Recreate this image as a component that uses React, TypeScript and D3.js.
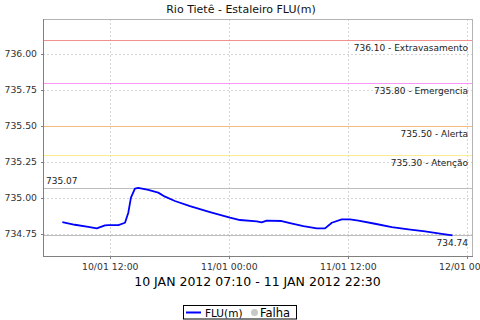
import React from "react";
import * as d3 from "d3";

const times: string[] = [
  "2012-01-10T07:10", "2012-01-10T08:26", "2012-01-10T09:47", "2012-01-10T10:38",
  "2012-01-10T11:28", "2012-01-10T11:48", "2012-01-10T12:49", "2012-01-10T13:29",
  "2012-01-10T13:49", "2012-01-10T14:05", "2012-01-10T14:29", "2012-01-10T14:49",
  "2012-01-10T15:50", "2012-01-10T16:50", "2012-01-10T17:31", "2012-01-10T18:31",
  "2012-01-10T20:02", "2012-01-10T22:03", "2012-01-11T00:04", "2012-01-11T01:05",
  "2012-01-11T02:46", "2012-01-11T03:16", "2012-01-11T03:46", "2012-01-11T05:17",
  "2012-01-11T06:07", "2012-01-11T07:28", "2012-01-11T08:49", "2012-01-11T09:39",
  "2012-01-11T10:09", "2012-01-11T10:20", "2012-01-11T11:20", "2012-01-11T12:10",
  "2012-01-11T13:01", "2012-01-11T14:41", "2012-01-11T16:23", "2012-01-11T18:03",
  "2012-01-11T19:44", "2012-01-11T21:25", "2012-01-11T22:30",
];
const levels: number[] = [
  734.833, 734.814, 734.8, 734.789, 734.81, 734.812, 734.812, 734.828,
  734.898, 735.002, 735.065, 735.07, 735.056, 735.037, 735.009, 734.979,
  734.944, 734.902, 734.863, 734.847, 734.838, 734.831, 734.842, 734.84,
  734.826, 734.805, 734.789, 734.789, 734.817, 734.828, 734.852, 734.852,
  734.842, 734.821, 734.798, 734.782, 734.768, 734.751, 734.74,
];

const yTicks: number[] = [734.75, 735.0, 735.25, 735.5, 735.75, 736.0];
const xTicks: string[] = ["2012-01-10T12:00", "2012-01-11T00:00", "2012-01-11T12:00", "2012-01-12T00:00"];
const xTickLabels: string[] = ["10/01 12:00", "11/01 00:00", "11/01 12:00", "12/01 00:00"];

const thresholdValues: number[] = [736.1, 735.8, 735.5, 735.3];
const thresholdLabels: string[] = ["736.10 - Extravasamento", "735.80 - Emergencia", "735.50 - Alerta", "735.30 - Atenção"];
const thresholdColors: string[] = ["#f29090", "#fb96fb", "#f2bc80", "#fdec90"];

const maxValue = 735.07;
const lastValue = 734.74;

const title = "Rio Tietê - Estaleiro FLU(m)";
const xAxisTitle = "10 JAN 2012 07:10 - 11 JAN 2012 22:30";
const seriesName = "FLU(m)";
const failName = "Falha";

const parse = (s: string) => new Date(s + ":00Z");
const FONT = "DejaVu Sans, sans-serif";

export default function App() {
  const W = 480, H = 320;
  const left = 43, right = 472, top = 19, bottom = 256;
  const x = d3.scaleUtc()
    .domain([parse("2012-01-10T05:13"), parse("2012-01-12T00:28")])
    .range([left, right]);
  const y = d3.scaleLinear().domain([734.597, 736.243]).range([bottom, top]);
  const data = times.map((t, i) => ({ t: parse(t), v: levels[i] }));
  const line = d3.line<{ t: Date; v: number }>().x(d => x(d.t)).y(d => y(d.v));

  return (
    <svg width={W} height={H} style={{ position: "absolute", left: 0, top: 0, background: "#fff" }}>
      <rect x={0} y={0} width={W} height={H} fill="#fff" />
      <text x={241} y={13} textAnchor="middle" fontFamily={FONT} fontSize={11} fill="#111">{title}</text>
      {/* gridlines */}
      {yTicks.map(t => (
        <line key={"gy" + t} x1={left} x2={right} y1={Math.round(y(t)) + 0.5} y2={Math.round(y(t)) + 0.5}
          stroke="#d4d4d4" strokeWidth={1} strokeDasharray="2,2" />
      ))}
      {xTicks.map(t => (
        <line key={"gx" + t} x1={Math.round(x(parse(t))) + 0.5} x2={Math.round(x(parse(t))) + 0.5} y1={top} y2={bottom}
          stroke="#d4d4d4" strokeWidth={1} strokeDasharray="2,2" />
      ))}
      {/* plot border */}
      <line x1={left} x2={right} y1={top + 0.5} y2={top + 0.5} stroke="#b4b4b4" />
      <line x1={right + 0.5} x2={right + 0.5} y1={top} y2={bottom} stroke="#b4b4b4" />
      {/* threshold markers */}
      {thresholdValues.map((v, i) => (
        <g key={"th" + v}>
          <line x1={left} x2={right} y1={Math.round(y(v)) + 0.5} y2={Math.round(y(v)) + 0.5}
            stroke={thresholdColors[i]} strokeWidth={1} />
          <text x={right - 4} y={y(v) + 11} textAnchor="end" fontFamily={FONT} fontSize={9} fill="#222">
            {thresholdLabels[i]}
          </text>
        </g>
      ))}
      <line x1={left} x2={right} y1={Math.round(y(maxValue)) + 0.5} y2={Math.round(y(maxValue)) + 0.5} stroke="#bdbdbd" />
      <text x={left + 3} y={y(maxValue) - 4} fontFamily={FONT} fontSize={9} fill="#222">{maxValue.toFixed(2)}</text>
      <line x1={left} x2={right} y1={Math.round(y(lastValue)) + 0.5} y2={Math.round(y(lastValue)) + 0.5} stroke="#bdbdbd" />
      <text x={right - 4} y={y(lastValue) + 11} textAnchor="end" fontFamily={FONT} fontSize={9} fill="#222">{lastValue.toFixed(2)}</text>
      {/* series */}
      <path d={line(data) || ""} fill="none" stroke="#0000ff" strokeWidth={1.8} strokeLinejoin="round" />
      {/* axes */}
      <line x1={left + 0.5} x2={left + 0.5} y1={top} y2={bottom + 1} stroke="#808080" />
      <line x1={left} x2={right + 1} y1={bottom + 0.5} y2={bottom + 0.5} stroke="#808080" />
      {yTicks.map(t => (
        <g key={"ty" + t}>
          <line x1={left - 2} x2={left} y1={Math.round(y(t)) + 0.5} y2={Math.round(y(t)) + 0.5} stroke="#808080" />
          <text x={left - 6} y={y(t) + 3.4} textAnchor="end" fontFamily={FONT} fontSize={9.3} fill="#333">{t.toFixed(2)}</text>
        </g>
      ))}
      {xTicks.map((t, i) => (
        <g key={"tx" + t}>
          <line x1={Math.round(x(parse(t))) + 0.5} x2={Math.round(x(parse(t))) + 0.5} y1={bottom} y2={bottom + 3} stroke="#808080" />
          <text x={x(parse(t))} y={269.5} textAnchor="middle" fontFamily={FONT} fontSize={9.3} fill="#333">{xTickLabels[i]}</text>
        </g>
      ))}
      <text x={(left + right) / 2} y={286} textAnchor="middle" fontFamily={FONT} fontSize={12.5} fill="#000">{xAxisTitle}</text>
      {/* legend */}
      <rect x={183.5} y={305.5} width={113} height={13.5} fill="#fff" stroke="#000" />
      <line x1={186} x2={201} y1={312.5} y2={312.5} stroke="#0000ff" strokeWidth={2} />
      <text x={205} y={316.5} fontFamily={FONT} fontSize={10.5} fill="#000">{seriesName}</text>
      <circle cx={254.5} cy={312.5} r={3.5} fill="#c8c8c8" />
      <text x={260} y={316.5} fontFamily={FONT} fontSize={11.5} fill="#000">{failName}</text>
    </svg>
  );
}
